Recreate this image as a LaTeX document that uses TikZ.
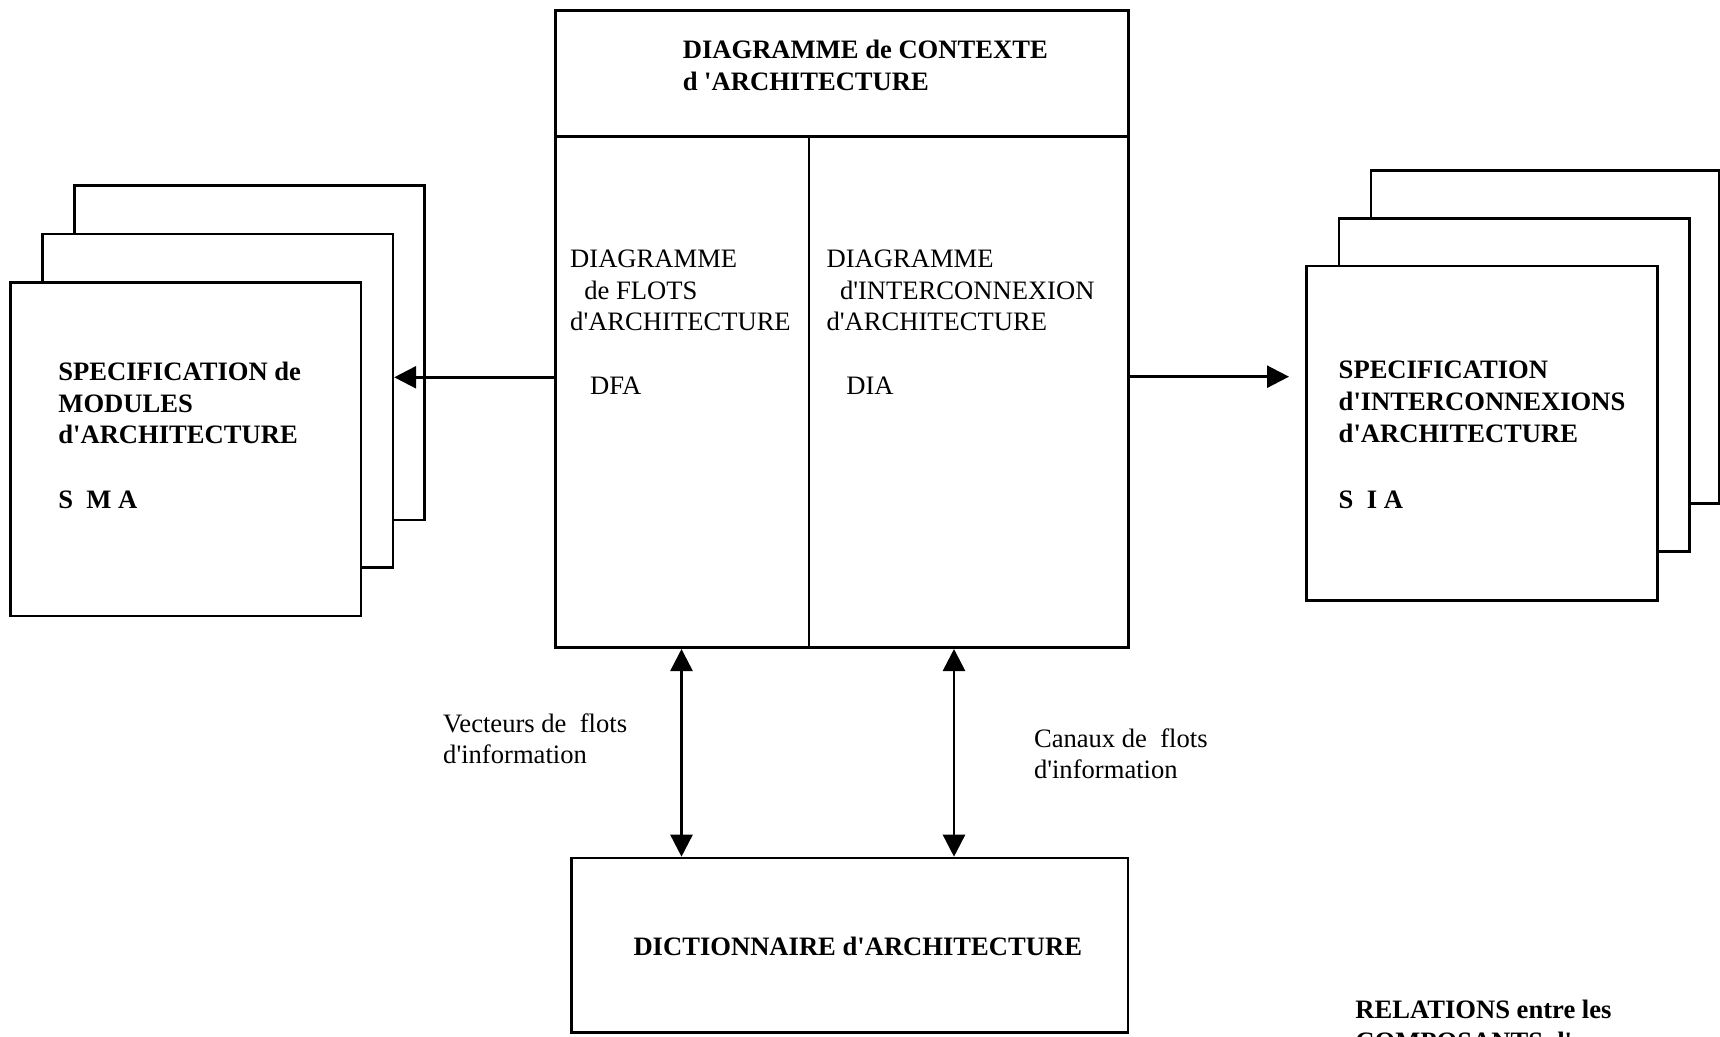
\documentclass[tikz,border=0pt]{standalone}
\usepackage{fontspec}
\setmainfont{Liberation Serif}[Ligatures=TeXOff]
\usetikzlibrary{arrows.meta}
\begin{document}
\begin{tikzpicture}[x=0.5pt,y=-0.5pt,
  box/.style={draw, line width=1.3pt, fill=white, inner sep=0pt, rectangle},
  lbl/.style={anchor=base west, inner sep=0pt, font=\fontsize{13.3}{15.9}\selectfont},
  blbl/.style={anchor=base west, inner sep=0pt, font=\fontsize{13.3}{15.9}\selectfont\bfseries},
  arr/.style={line width=1.3pt, -{Triangle[length=11pt,width=11pt]}},
  darr/.style={line width=1.3pt, {Triangle[length=11pt,width=11pt]}-{Triangle[length=11pt,width=11pt]}}]
\useasboundingbox (0,0) rectangle (1720,1037);
\clip (0,0) rectangle (1720,1037);

% left stack
\node[box, minimum width=175pt, minimum height=167.15pt] (lback) at (249.7,352.85) {};
\node[box, minimum width=175.2pt, minimum height=166.85pt] (lmid) at (217.7,400.85) {};
\node[box, minimum width=175.35pt, minimum height=166.65pt] (lfront) at (185.75,449.35) {};

% right stack
\node[box, minimum width=174pt, minimum height=166.3pt] (rback) at (1545,337) {};
\node[box, minimum width=175.15pt, minimum height=166.7pt] (rmid) at (1514.15,385) {};
\node[box, minimum width=175.5pt, minimum height=167.35pt] (rfront) at (1482.2,433.35) {};

% main box
\node[box, minimum width=286.65pt, minimum height=318.5pt] (main) at (842,329.2) {};
\coordinate (hdiv) at (0,136.7);
\coordinate (vdiv) at (809,0);
\draw[line width=1.3pt] (main.west |- hdiv) -- (main.east |- hdiv);
\draw[line width=1.3pt] (vdiv |- hdiv) -- (vdiv |- main.south);

% dictionary box
\node[box, minimum width=278.35pt, minimum height=87.35pt] (dict) at (849.65,945.35) {};

% connectors
\coordinate (ayl) at (0,377.3);
\coordinate (ayr) at (0,376.7);
\coordinate (rtip) at (1289,376.7);
\coordinate (ax1) at (681.5,0);
\coordinate (ax2) at (954,0);
\draw[arr] (main.west |- ayl) -- (lmid.east |- ayl);
\draw[arr] (main.east |- ayr) -- (rtip);
\draw[darr] (main.south -| ax1) -- (dict.north -| ax1);
\draw[darr] (main.south -| ax2) -- (dict.north -| ax2);

% title
\node[blbl] (t1) at (682.4,58.8) {DIAGRAMME de CONTEXTE};
\node[blbl] (t2) at (682.4,90.5) {d 'ARCHITECTURE};

% DFA column
\node[lbl] (f1) at (569.8,267.3) {DIAGRAMME};
\node[lbl] (f2) at (584,299.2) {de FLOTS};
\node[lbl] (f3) at (569.8,330.7) {d'ARCHITECTURE};
\node[lbl] (f4) at (589.7,395) {DFA};

% DIA column
\node[lbl] (i1) at (826.2,267.3) {DIAGRAMME};
\node[lbl] (i2) at (839.6,299.2) {d'INTERCONNEXION};
\node[lbl] (i3) at (826.2,330.7) {d'ARCHITECTURE};
\node[lbl] (i4) at (846,395) {DIA};

% left stack text
\node[blbl] (s1) at (58,380.5) {SPECIFICATION de};
\node[blbl] (s2) at (58,412.1) {MODULES};
\node[blbl] (s3) at (58,443.8) {d'ARCHITECTURE};
\node[blbl] (s4) at (58,508.8) {S\ \ M A};

% right stack text
\node[blbl] (r1) at (1338.3,378.8) {SPECIFICATION};
\node[blbl] (r2) at (1338.3,410.5) {d'INTERCONNEXIONS};
\node[blbl] (r3) at (1338.3,442.1) {d'ARCHITECTURE};
\node[blbl] (r4) at (1338.3,508.1) {S\ \ I A};

% arrow labels
\node[lbl] (v1) at (442.8,732) {Vecteurs de\ \ flots};
\node[lbl] (v2) at (442.8,763.8) {d'information};
\node[lbl] (c1) at (1033.6,747.1) {Canaux de\ \ flots};
\node[lbl] (c2) at (1033.6,778.8) {d'information};

% dictionary text
\node[blbl, anchor=base] (dt) at (857.8,955.5) {DICTIONNAIRE d'ARCHITECTURE};

% caption
\node[blbl] (cap1) at (1355,1018.8) {RELATIONS entre les};
\node[blbl] (cap2) at (1355,1050.5) {COMPOSANTS d'};
\end{tikzpicture}
\end{document}
